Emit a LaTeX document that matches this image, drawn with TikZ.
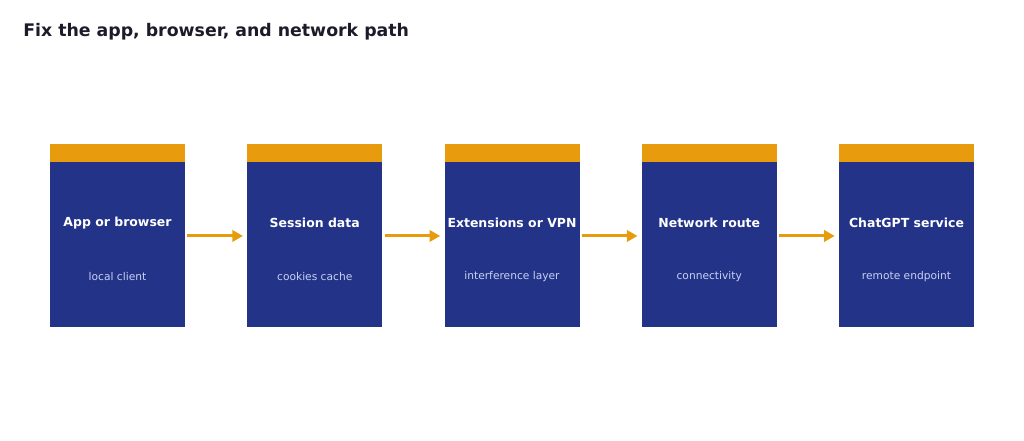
\documentclass[tikz,border=0pt]{standalone}
\usepackage{fontspec}
\setmainfont{DejaVu Sans}
\usetikzlibrary{arrows.meta, positioning}
\definecolor{fxnavy}{HTML}{233388}
\definecolor{fxamber}{HTML}{E99B0E}
\definecolor{fxink}{HTML}{1B1B2A}
\definecolor{fxpale}{HTML}{C9D1F2}

\begin{document}
\begin{tikzpicture}[x=0.75pt, y=-0.75pt,
          body/.style={fill=fxnavy, minimum width=101.25pt, minimum height=123.75pt, inner sep=0pt},
          band/.style={fill=fxamber, minimum width=101.25pt, minimum height=13.5pt, inner sep=0pt},
          head/.style={text=white, font=\bfseries\fontsize{9.35}{11}\selectfont},
          sub/.style={text=fxpale, font=\fontsize{8}{9}\selectfont},
          flow/.style={-{Triangle[length=8pt, width=8.5pt]}, fxamber, line width=2.3pt}]
  \useasboundingbox (0,0) rectangle (1024,441);
  \node[anchor=west, text=fxink, font=\bfseries\fontsize{13}{15}\selectfont, inner sep=0pt] (title) at (23,32) {Fix the app, browser, and network path};
  \foreach \i/\x/\hd/\sb in {1/117.5/App or browser/local client,
                             2/314.75/Session data/cookies cache,
                             3/512/Extensions or VPN/interference layer,
                             4/709.25/Network route/connectivity,
                             5/906.5/ChatGPT service/remote endpoint}{
    \node[body] (b\i) at (\x,244.5) {};
    \node[band] (t\i) at (\x,153) {};
    \node[head] (h\i) at (\x,223) {\hd};
    \node[sub] (s\i) at (\x,277) {\sb};
  }
  \foreach \i/\j in {1/2, 2/3, 3/4, 4/5}
    \draw[flow, shorten <=1.5pt, shorten >=3pt] ([yshift=6.4pt]b\i.east) -- ([yshift=6.4pt]b\j.west);
\end{tikzpicture}
\end{document}
